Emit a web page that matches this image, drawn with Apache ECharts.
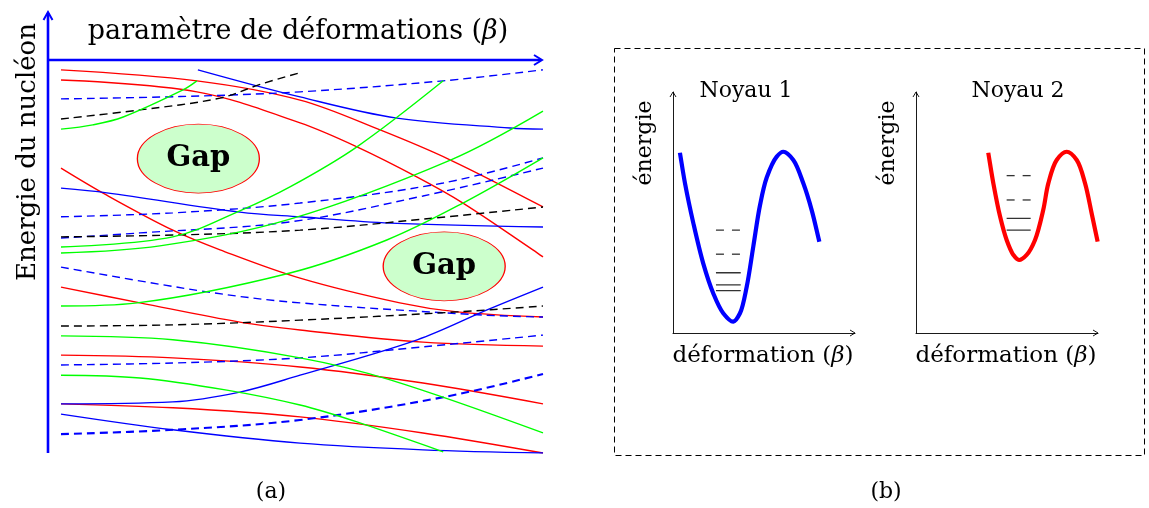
<!DOCTYPE html>
<html><head><meta charset="utf-8">
<script src="https://cdn.jsdelivr.net/npm/echarts@6/dist/echarts.min.js"></script>
<style>html,body{margin:0;padding:0;background:#fff}#c{width:1149px;height:508px}</style>
</head><body><div id="c"></div>
<script>
// ---------- Panel (a): single-particle levels, beta (0..100) vs energy (0..100) ----------
const red1 = [[0,97.5],[28.2,94.7],[49.6,89.8],[66.2,82.2],[80.7,74.6],[100,62.6]];
const red2 = [[0,94.9],[28.2,91.9],[49.6,84.0],[61.4,77.9],[73.9,70.2],[83.4,63.6],[97.9,51.7],[100,49.9]];
const red3 = [[0,72.5],[9.5,65.6],[23.2,56.7],[33.0,51.7],[49.6,44.5],[70.3,38.2],[82.2,35.9],[100,34.6]];
const red4 = [[0,42.2],[16.4,38.2],[37.1,33.3],[49.6,31.3],[75.1,28.2],[100,27.2]];
const red5 = [[0,24.9],[23.2,24.2],[49.6,21.9],[75.1,17.8],[100,12.5]];
const red6 = [[0,12.5],[23.2,11.5],[49.6,9.2],[75.1,5.1],[100,0]];

const blue1 = [[28.4,97.5],[49.6,90.6],[69.7,85.2],[93.2,82.7],[100,82.4]];
const blue2 = [[0,67.4],[9.5,66.2],[37.1,61.3],[49.6,60.1],[68.3,58.5],[100,57.5]];
const blue3 = [[0,12.5],[23.2,13.0],[37.1,15.5],[49.6,19.8],[73.9,28.8],[88.4,36.4],[100,42.2]];
const blue4 = [[0,9.9],[23.2,5.9],[49.6,2.5],[75.1,0.8],[100,0]];

const blueDash1 = [[0,90.1],[24.7,90.7],[49.6,91.9],[79.3,94.7],[100,97.5]];
const blueDash2 = [[0,60.1],[23.2,61.1],[49.6,63.6],[79.3,68.7],[100,75.1]];
const blueDash3 = [[0,54.7],[16.4,56.0],[47.5,58.8],[75.1,65.4],[100,72.5]];
const blueDash4 = [[0,47.3],[30.3,41.0],[49.6,38.2],[87.6,35.1],[100,34.6]];
const blueDash5 = [[0,22.4],[23.2,22.9],[49.6,24.2],[75.1,27.0],[100,30.0]];
const blueDash6 = [[0,4.8],[23.2,5.9],[49.6,8.4],[79.3,14.2],[100,20.1]];

const blackDash1 = [[0,85.0],[16.4,87.3],[33.0,90.3],[41.3,93.8],[50.0,96.9]];
const blackDash2 = [[0,55.0],[24.7,55.5],[49.6,56.7],[75.1,59.5],[100,62.6]];
const blackDash3 = [[0,32.3],[23.2,32.6],[49.6,33.8],[82.2,35.9],[100,37.4]];

const green0 = [[0,82.4],[6.6,83.5],[12.9,85.5],[25.3,92.4],[28.2,94.7]];
const green1 = [[0,52.4],[23.2,55.0],[37.1,61.6],[47.5,67.7],[61.4,77.9],[79.3,94.7]];
const green2 = [[0,50.9],[20.5,52.7],[47.5,59.5],[80.9,74.6],[100,87.0]];
const green3 = [[0,37.4],[15.8,38.2],[47.5,45.8],[67.6,54.2],[83.4,63.6],[100,75.1]];
const green4 = [[0,29.8],[23.2,28.8],[49.6,24.2],[68.3,18.6],[100,5.1]];
const green5 = [[0,19.8],[16.4,19.1],[34.4,16.0],[49.6,12.2],[61.4,7.9],[79.3,0.3]];

const gapCenters = [[28.5,74.9],[79.5,47.5]];
const gapLabel = 'Gap';

// ---------- Panel (b): potential energy vs deformation (0..10 each) ----------
const well1 = [[0.38,7.48],[0.66,6.21],[1.12,4.55],[1.66,2.89],[2.21,1.65],[2.76,0.82],[3.31,0.47],[3.68,0.82],[4.05,1.92],[4.41,3.58],[4.78,5.30],[5.15,6.45],[5.70,7.32],[6.06,7.52],[6.61,7.18],[7.16,6.21],[7.62,5.10],[8.04,3.79]];
const well1LevelX = [2.36, 3.72];
const well1Solid = [2.50, 2.00, 1.76];
const well1Dashed = [4.27, 3.27];

const well2 = [[3.97,7.48],[4.25,6.21],[4.62,4.83],[4.98,3.86],[5.35,3.24],[5.66,3.03],[6.08,3.24],[6.54,3.86],[6.99,5.10],[7.27,6.21],[7.73,7.18],[8.28,7.52],[8.83,7.18],[9.29,6.21],[9.65,4.97],[9.98,3.79]];
const well2LevelX = [4.98, 6.30];
const well2Solid = [4.76, 4.27];
const well2Dashed = [6.53, 5.52];

// ---------- texts ----------
const txtXTitle = 'paramètre de déformations (';
const txtYTitle = 'Energie du nucléon';
const txtNoyau1 = 'Noyau 1';
const txtNoyau2 = 'Noyau 2';
const txtDef = 'déformation (';
const txtEn = 'énergie';

// ---------- layout ----------
const GA = {left:61, top:60, width:482, height:393};
const G1 = {left:673, top:92, width:182, height:241};
const G2 = {left:916, top:92, width:182, height:241};
const SERIF = '"DejaVu Serif", serif';
const RED='#ff0000', BLUE='#0000ff', GREEN='#00ff00', BLACK='#000000';

const aLines = [
  [red1,RED,0],[red2,RED,0],[red3,RED,0],[red4,RED,0],[red5,RED,0],[red6,RED,0],
  [blue1,BLUE,0],[blue2,BLUE,0],[blue3,BLUE,0],[blue4,BLUE,0],
  [blueDash1,BLUE,1],[blueDash2,BLUE,1],[blueDash3,BLUE,1],[blueDash4,BLUE,1],[blueDash5,BLUE,1],[blueDash6,BLUE,2],
  [blackDash1,BLACK,1],[blackDash2,BLACK,1],[blackDash3,BLACK,1],
  [green0,GREEN,0],[green1,GREEN,0],[green2,GREEN,0],[green3,GREEN,0],[green4,GREEN,0],[green5,GREEN,0]
];

const series = [];
aLines.forEach(([d,c,k]) => {
  series.push({type:'line', xAxisIndex:0, yAxisIndex:0, data:d, smooth:0.35, symbol:'none',
    lineStyle:{color:c, width: k===2?2.1:1.4, type: k? [8,5] : 'solid'}, z:2, silent:true});
});
series.push({type:'scatter', xAxisIndex:0, yAxisIndex:0, data:gapCenters, symbol:'circle', symbolSize:[122,69],
  itemStyle:{color:'#ccffcc', borderColor:RED, borderWidth:1, opacity:1}, z:5, silent:true,
  label:{show:true, position:'inside', formatter:gapLabel, color:'#000', fontFamily:SERIF, fontWeight:'bold', fontSize:29}});

// centripetal Catmull-Rom path through the data points (converted by the axes)
function crPath(pts){
  const P = pts.slice();
  const n = P.length;
  const ext = [[2*P[0][0]-P[1][0], 2*P[0][1]-P[1][1]], ...P, [2*P[n-1][0]-P[n-2][0], 2*P[n-1][1]-P[n-2][1]]];
  const dist = (a,b)=>Math.pow(Math.hypot(b[0]-a[0], b[1]-a[1]) || 1e-6, 0.5);
  let d = 'M' + P[0][0] + ' ' + P[0][1];
  for (let i=1;i<ext.length-2;i++){
    const p0=ext[i-1], p1=ext[i], p2=ext[i+1], p3=ext[i+2];
    const d1=dist(p0,p1), d2=dist(p1,p2), d3=dist(p2,p3);
    const c1 = [0,1].map(k=>(d1*d1*p2[k] - d2*d2*p0[k] + (2*d1*d1+3*d1*d2+d2*d2)*p1[k])/(3*d1*(d1+d2)));
    const c2 = [0,1].map(k=>(d3*d3*p1[k] - d2*d2*p3[k] + (2*d3*d3+3*d3*d2+d2*d2)*p2[k])/(3*d3*(d3+d2)));
    d += ' C' + c1[0]+' '+c1[1]+' '+c2[0]+' '+c2[1]+' '+p2[0]+' '+p2[1];
  }
  return d;
}

function wellSeries(idx, curve, color, lx, solid, dashed){
  series.push({type:'custom', xAxisIndex:idx, yAxisIndex:idx, data:curve, z:3, silent:true, clip:false,
    renderItem:(params, api)=>{
      if (params.dataIndex !== 0) return null;
      const px = curve.map(p=>api.coord(p));
      return {type:'path', shape:{pathData:crPath(px)}, style:{stroke:color, lineWidth:4.2, fill:null, lineJoin:'round'}};
    }});
  solid.forEach(y => series.push({type:'line', xAxisIndex:idx, yAxisIndex:idx, data:[[lx[0],y],[lx[1],y]], symbol:'none',
    lineStyle:{color:'#333', width:1.3}, z:2, silent:true}));
  dashed.forEach(y => series.push({type:'line', xAxisIndex:idx, yAxisIndex:idx, data:[[lx[0],y],[lx[1],y]], symbol:'none',
    lineStyle:{color:'#333', width:1.3, type:[8,8]}, z:2, silent:true}));
}
wellSeries(1, well1, BLUE, well1LevelX, well1Solid, well1Dashed);
wellSeries(2, well2, RED, well2LevelX, well2Solid, well2Dashed);

const smallAxis = {type:'value', min:0, max:10, axisLine:{show:true, onZero:false, lineStyle:{color:'#000', width:0.9}},
  axisTick:{show:false}, axisLabel:{show:false}, splitLine:{show:false}};

function chev(points, color, w){ return {type:'polyline', shape:{points:points}, style:{stroke:color, lineWidth:w, fill:null}, z:10}; }
function txt(x,y,text,size,rot,rich){
  return {type:'text', x:x, y:y, rotation:rot||0, z:10,
    style:{text:text, x:0, y:0, fill:'#000', font: size+'px '+SERIF, fontFamily:SERIF, fontSize:size,
      align:'center', verticalAlign:'middle', textAlign:'center', textVerticalAlign:'middle', rich:rich}};
}
const betaRich = (s)=>({b:{fontStyle:'italic', fontFamily:SERIF, fontSize:s, fill:'#000', color:'#000'}});

const AX = GA.left-13, AY = GA.top;          // panel (a) axis position
const graphic = [
  {type:'line', shape:{x1:AX, y1:GA.top+GA.height, x2:AX, y2:13}, style:{stroke:BLUE, lineWidth:2.6}, z:10},
  chev([[AX-4.5,20],[AX,12],[AX+4.5,20]], BLUE, 2),
  {type:'line', shape:{x1:AX, y1:AY, x2:GA.left+GA.width-2, y2:AY}, style:{stroke:BLUE, lineWidth:2.6}, z:10},
  chev([[GA.left+GA.width-9,AY-5],[GA.left+GA.width-1,AY],[GA.left+GA.width-9,AY+5]], BLUE, 2),
  {type:'rect', shape:{x:614.5, y:48.5, width:530, height:407}, style:{fill:null, stroke:'#000', lineWidth:1, lineDash:[6,4]}, z:1},
  chev([[G1.left+G1.width-5,G1.top+G1.height-3],[G1.left+G1.width,G1.top+G1.height],[G1.left+G1.width-5,G1.top+G1.height+3]], '#000', 0.9),
  chev([[G1.left-3,G1.top+5],[G1.left,G1.top],[G1.left+3,G1.top+5]], '#000', 0.9),
  chev([[G2.left+G2.width-5,G2.top+G2.height-3],[G2.left+G2.width,G2.top+G2.height],[G2.left+G2.width-5,G2.top+G2.height+3]], '#000', 0.9),
  chev([[G2.left-3,G2.top+5],[G2.left,G2.top],[G2.left+3,G2.top+5]], '#000', 0.9),
  txt(298, 32, txtXTitle+'{b|β})', 27, 0, betaRich(27)),
  txt(28, 152, txtYTitle, 26, Math.PI/2),
  txt(746, 91, txtNoyau1, 22),
  txt(1018, 91, txtNoyau2, 22),
  txt(763, 356, txtDef+'{b|β})', 23, 0, betaRich(23)),
  txt(1006, 356, txtDef+'{b|β})', 23, 0, betaRich(23)),
  txt(645, 143, txtEn, 22, Math.PI/2),
  txt(888, 143, txtEn, 22, Math.PI/2),
  txt(271, 492, '(a)', 22),
  txt(886, 492, '(b)', 22)
];

const chart = echarts.init(document.getElementById('c'), null, {renderer:'canvas'});
chart.setOption({
  animation:false,
  backgroundColor:'#fff',
  grid:[Object.assign({}, GA), Object.assign({}, G1), Object.assign({}, G2)],
  xAxis:[
    {type:'value', gridIndex:0, min:0, max:100, show:false},
    Object.assign({gridIndex:1}, smallAxis),
    Object.assign({gridIndex:2}, smallAxis)
  ],
  yAxis:[
    {type:'value', gridIndex:0, min:0, max:100, show:false},
    Object.assign({gridIndex:1}, smallAxis),
    Object.assign({gridIndex:2}, smallAxis)
  ],
  series: series,
  graphic: graphic
});
</script>
</body></html>
